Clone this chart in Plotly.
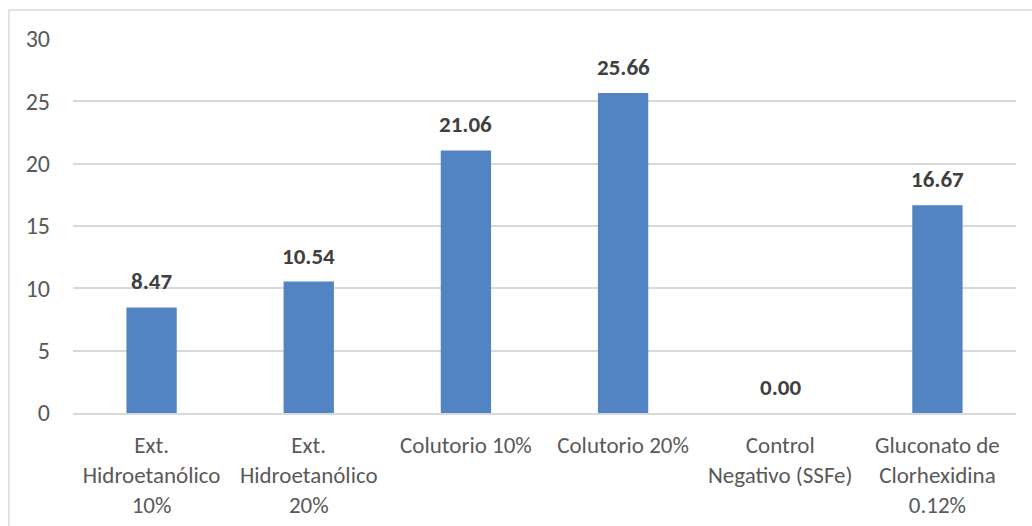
import plotly.graph_objects as go

categories = ["Ext.<br>Hidroetanólico<br>10%", "Ext.<br>Hidroetanólico<br>20%", "Colutorio 10%",
              "Colutorio 20%", "Control<br>Negativo (SSFe)", "Gluconato de<br>Clorhexidina<br>0.12%"]
values = [8.47, 10.54, 21.06, 25.66, 0.00, 16.67]
y_ticks = [0, 5, 10, 15, 20, 25, 30]

FONT = "Calibri, Carlito, Lato, sans-serif"

fig = go.Figure()
fig.add_trace(go.Bar(
    x=categories, y=values,
    marker=dict(color="#5283c2", line=dict(width=0)),
    width=0.32,
    hoverinfo="x+y",
))

for c, v in zip(categories, values):
    fig.add_annotation(x=c, y=v, text=f"<b>{v:.2f}</b>", showarrow=False,
                       yanchor="bottom", yshift=10,
                       font=dict(family=FONT, size=23, color="#404040"))

# outer chart frame (partially off-canvas like the reference)
fig.add_shape(type="rect", xref="paper", yref="paper",
              x0=-0.0679, y0=-0.33, x1=1.03, y1=1.0775,
              line=dict(color="#d9d9d9", width=1.5), fillcolor="rgba(0,0,0,0)", layer="below")

fig.update_layout(
    width=1032, height=526,
    margin=dict(l=73, r=16, t=39, b=113, autoexpand=False),
    paper_bgcolor="white", plot_bgcolor="white",
    showlegend=False,
    font=dict(family=FONT, size=23, color="#595959"),
    xaxis=dict(showgrid=False, showline=True, linecolor="#d9d9d9", linewidth=1.5, automargin=False,
               ticks="", ticklabelstandoff=11, tickfont=dict(size=23, color="#595959")),
    yaxis=dict(range=[0, 30], tickvals=y_ticks, showgrid=True, gridcolor="#d9d9d9", gridwidth=1.5,
               zeroline=False, showline=False, ticks="", ticklabelstandoff=22, automargin=False,
               tickfont=dict(size=24, color="#595959")),
)

fig.write_html("out.html")
